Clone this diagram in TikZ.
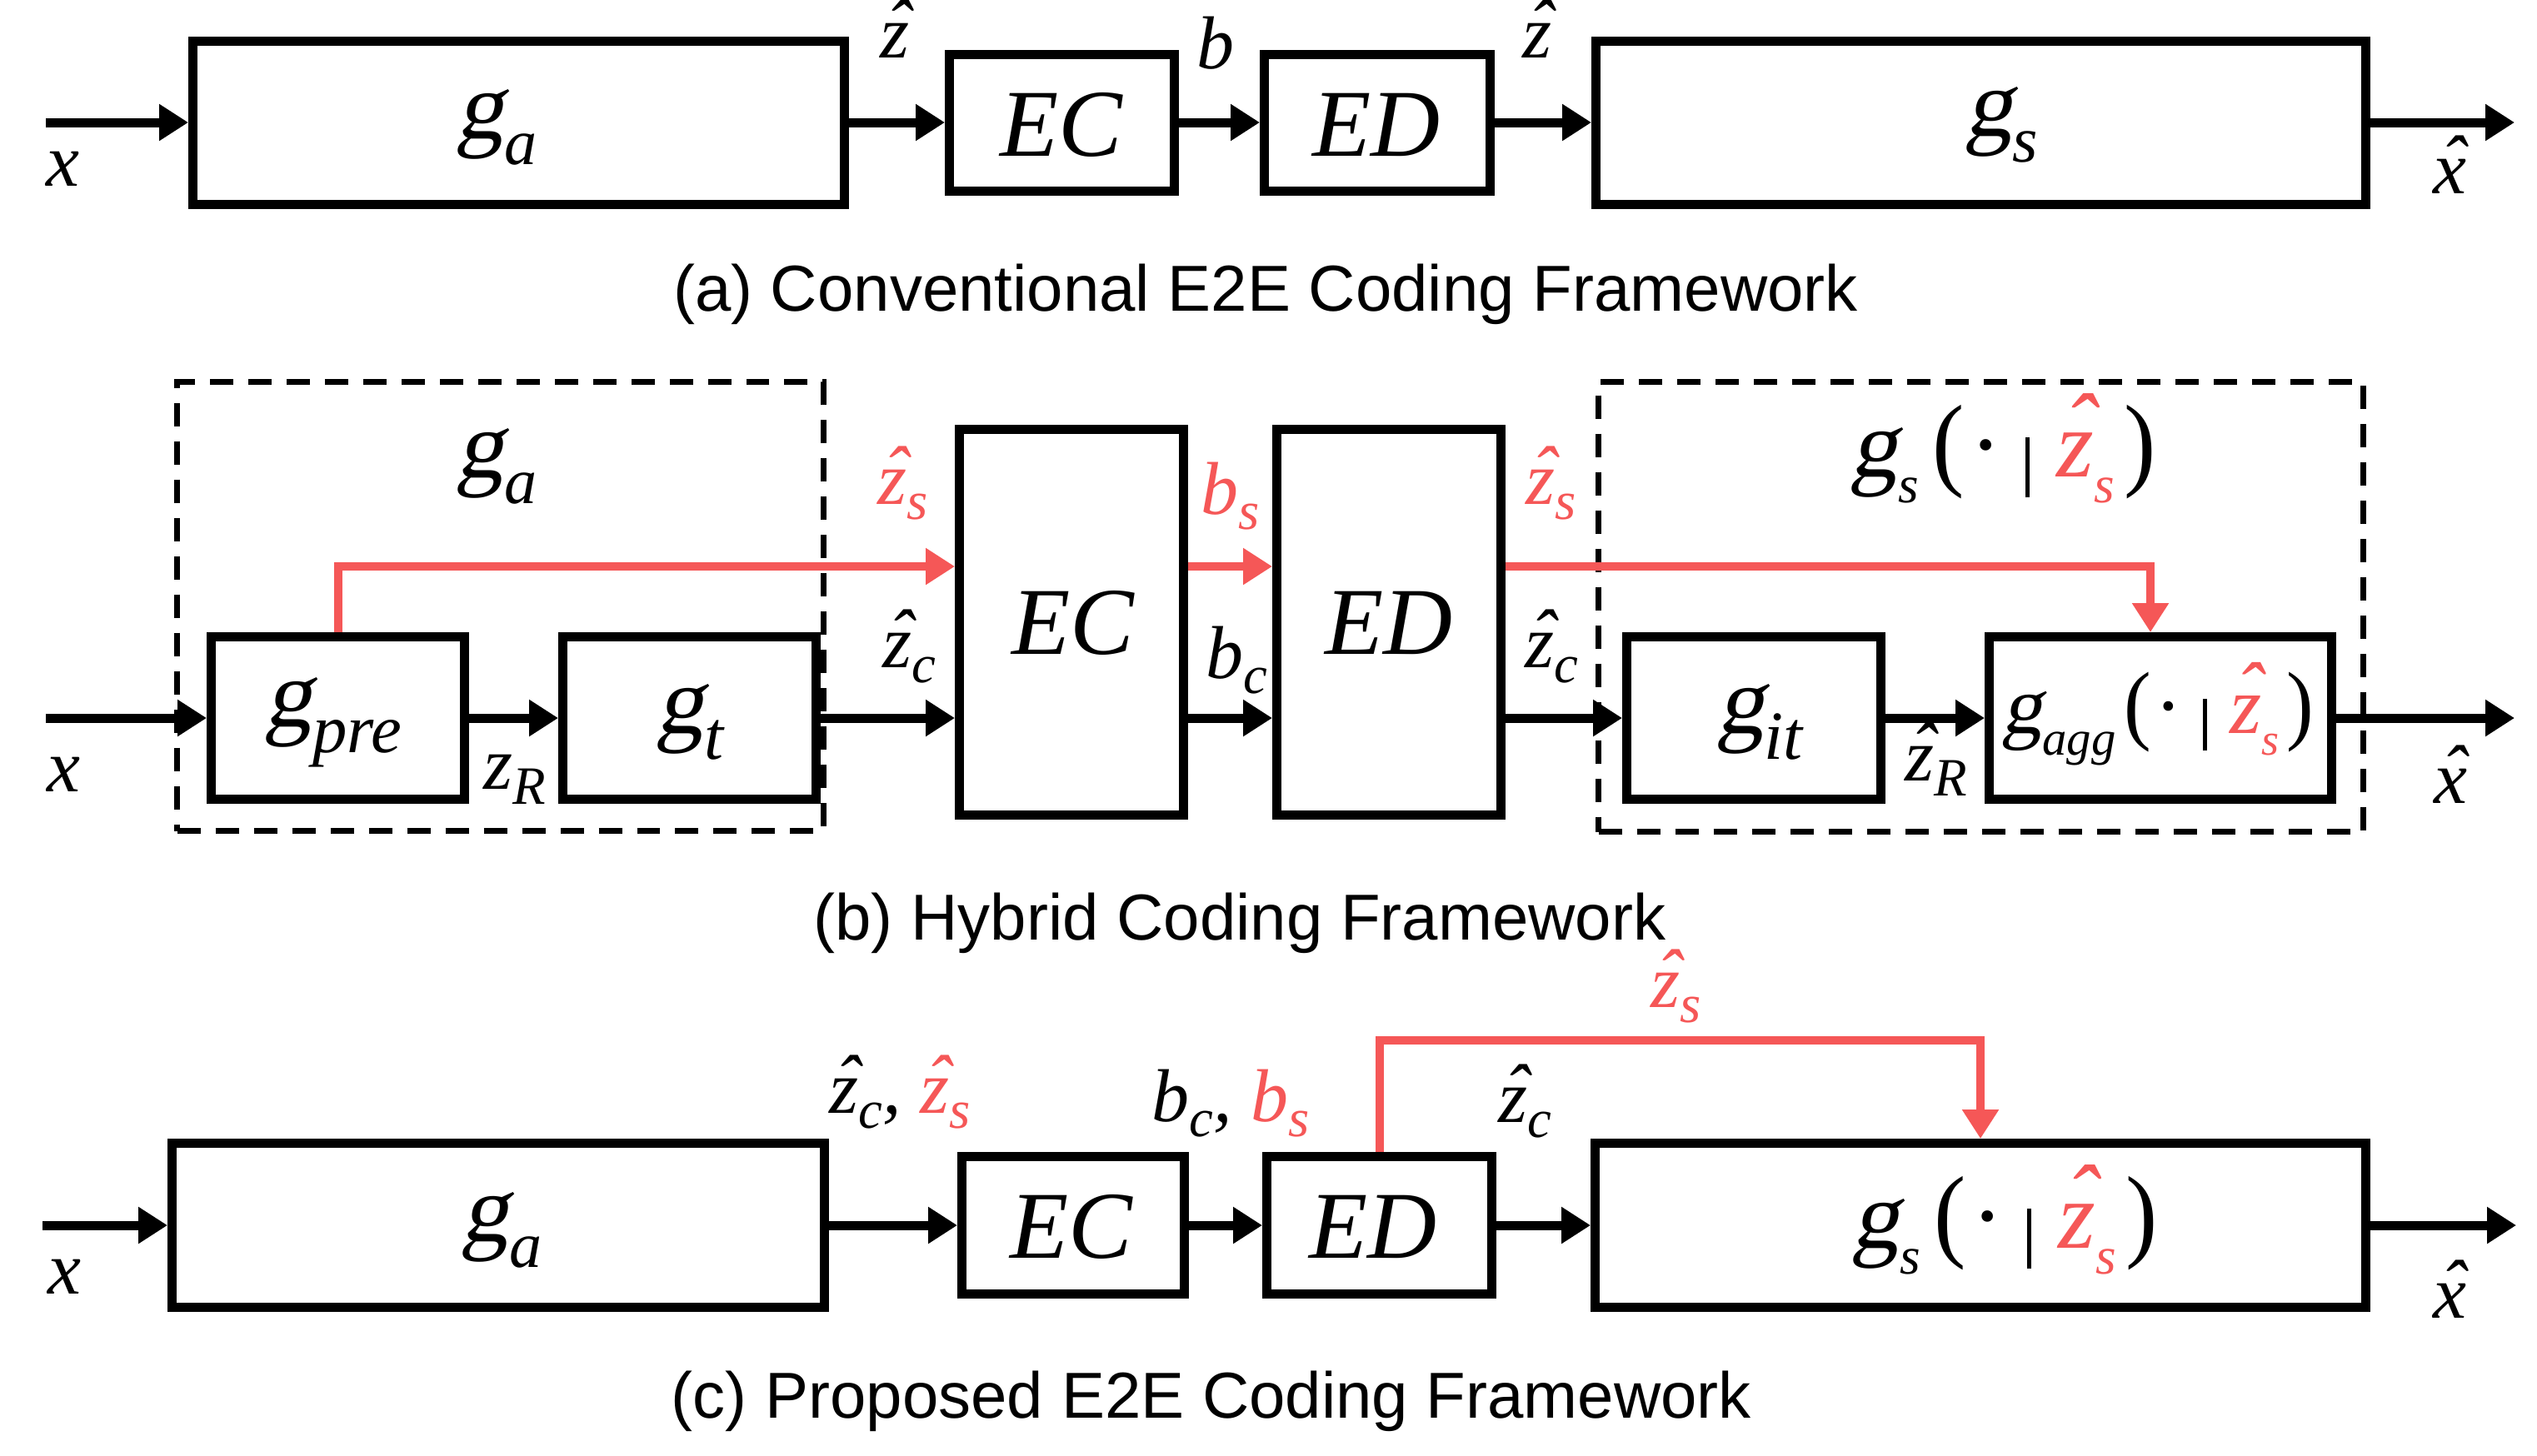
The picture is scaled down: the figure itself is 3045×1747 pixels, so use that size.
\documentclass[tikz,border=0pt]{standalone}
\usepackage{fontspec}
\usepackage{graphicx}
\setmainfont{Liberation Serif}
\newfontfamily\sansf{Liberation Sans}
\newfontfamily\gfam{Liberation Serif}[FakeSlant=0.2]
\usetikzlibrary{arrows.meta}
\definecolor{myred}{RGB}{245,87,87}
\newcommand\myg{{\gfam\upshape g}}
\newcommand\hatit[2][0.08em]{{\leavevmode\ooalign{#2\cr\hidewidth\kern0.1em\raisebox{#1}{\symbol{"02C6}}\hidewidth\cr}}}
\newcommand\sub[2][0.7]{\raisebox{-0.27em}{\scalebox{#1}{#2}}}
\newcommand\lsub[2][0.72]{\raisebox{-0.2em}{\scalebox{#1}{#2}}}
\newcommand\bxf{\itshape\fontsize{11.5pt}{12pt}\selectfont}
\newcommand\lbf{\itshape\fontsize{9pt}{10pt}\selectfont}
\newcommand\capf{\sansf\fontsize{7.8pt}{9pt}\selectfont}
\newcommand\vbar[3]{\rule[#1]{#2}{#3}}
\newcommand\lp{{\upshape\scalebox{1}[1.08]{(}}}
\newcommand\rp{{\upshape\scalebox{1}[1.08]{)}}}
\newcommand\cond[1]{\lp\kern0.05em{\upshape\textperiodcentered}\kern0.25em#1\kern0.28em{\color{myred}\hatit[0.17em]{z}\sub[0.55]{s}}\kern0.1em\rp}
\begin{document}
\begin{tikzpicture}[x=0.1pt,y=-0.1pt,
 box/.style={draw, line width=1.1pt, inner sep=0pt, outer sep=0.55pt},
 grp/.style={draw, line width=0.75pt, dash pattern=on 2.8pt off 1.8pt, inner sep=0pt},
 arr/.style={line width=1.1pt, -{Triangle[length=3.5pt,width=4.2pt]}},
 rarr/.style={arr, draw=myred, line width=1.0pt},
 mt/.style={inner sep=0pt, font=\bxf},
 lb/.style={inner sep=0pt, font=\lbf},
 captxt/.style={inner sep=0pt, font=\capf}]
\useasboundingbox (0,0) rectangle (3045,1747);

% ---------- (a) ----------
\node[box, minimum width=78.2pt, minimum height=19.6pt] (ga1) at (622.5,147) {};
\node[box, minimum width=27.0pt, minimum height=16.4pt] (ec1) at (1274.5,147) {};
\node[box, minimum width=27.1pt, minimum height=16.4pt] (ed1) at (1653,147) {};
\node[box, minimum width=92.4pt, minimum height=19.6pt] (gs1) at (2377.5,147) {};
\coordinate (xin1) at (55,147);
\coordinate (xout1) at (3018,147);
\draw[arr] (xin1) -- (ga1.west);
\draw[arr] (ga1.east) -- (ec1.west);
\draw[arr] (ec1.east) -- (ed1.west);
\draw[arr] (ed1.east) -- (gs1.west);
\draw[arr] (gs1.east) -- (xout1);
\node[mt] (ga1t) at (596,153) {\myg\sub[0.68]{a}};
\node[mt] (ec1t) at (1274,150) {EC};
\node[mt] (ed1t) at (1652,150) {ED};
\node[mt] (gs1t) at (2402,150) {\myg\sub[0.68]{s}};
\node[lb] (xa) at (75,203) {x};
\node[lb] (za1) at (1074,49) {\hatit{z}};
\node[lb] (ba) at (1459,52) {b};
\node[lb] (za2) at (1845,49) {\hatit{z}};
\node[lb] (xha) at (2940,212) {\hatit{x}};
\node[captxt] (capa) at (1519,353) {(a) Conventional E2E Coding Framework};

% ---------- (b) ----------
\node[grp, minimum width=77.6pt, minimum height=53.9pt] (dga) at (600.5,728) {};
\node[grp, minimum width=91.8pt, minimum height=54.0pt] (dgs) at (2377.5,728.5) {};
\node[box, minimum width=30.4pt, minimum height=19.5pt] (gpre) at (405.5,862) {};
\node[box, minimum width=30.4pt, minimum height=19.5pt] (gt) at (827.5,862) {};
\node[box, minimum width=26.9pt, minimum height=46.3pt] (ec2) at (1286,747) {};
\node[box, minimum width=26.9pt, minimum height=46.3pt] (ed2) at (1667,747) {};
\node[box, minimum width=30.5pt, minimum height=19.5pt] (git) at (2105,862) {};
\node[box, minimum width=41.1pt, minimum height=19.5pt] (gagg) at (2593,862) {};
\coordinate (xin2) at (55,862);
\coordinate (xout2) at (3018,862);
\coordinate (yr) at (0,680);
\draw[arr] (xin2) -- (gpre.west);
\draw[arr] (gpre.east) -- (gt.west);
\draw[arr] (gt.east) -- (ec2.west |- gt.east);
\draw[arr] (ec2.east |- gt.east) -- (ed2.west |- gt.east);
\draw[arr] (ed2.east |- gt.east) -- (git.west);
\draw[arr] (git.east) -- (gagg.west);
\draw[arr] (gagg.east) -- (xout2);
\draw[rarr] (gpre.north) |- (ec2.west |- yr);
\draw[rarr] (ec2.east |- yr) -- (ed2.west |- yr);
\draw[rarr] (ed2.east |- yr) -| ([xshift=-1.2pt]gagg.north);
\node[mt] (ga2t) at (596,560) {\myg\sub[0.68]{a}};
\node[mt] (gst) at (2404,545) {\myg\sub[0.55]{s}\kern0.15em\cond{\vbar{-2.5pt}{0.5pt}{7.2pt}}};
\node[mt] (gpret) at (400,867) {\myg\sub[0.72]{pre}};
\node[mt] (gtt) at (828,867) {\myg\sub[0.72]{t}};
\node[mt] (ec2t) at (1288,748) {EC};
\node[mt] (ed2t) at (1667,748) {ED};
\node[mt] (gitt) at (2112,867) {\myg\sub[0.72]{it}};
\node[mt] (gaggt) at (2590,863) {\fontsize{9.8pt}{10pt}\selectfont \myg\sub[0.6]{agg}\kern0.1em\cond{\vbar{-2.1pt}{0.45pt}{6.2pt}}};
\node[lb, text=myred] (zs1) at (1084,594) {\hatit{z}\lsub{s}};
\node[lb, text=myred] (bs) at (1477,596) {b\lsub{s}};
\node[lb, text=myred] (zs2) at (1862,594) {\hatit{z}\lsub{s}};
\node[lb] (zc1) at (1091,790) {\hatit{z}\lsub{c}};
\node[lb] (bc) at (1484,793) {b\lsub{c}};
\node[lb] (zc2) at (1862,790) {\hatit{z}\lsub{c}};
\node[lb] (zr) at (618,936) {z\lsub{R}};
\node[lb] (zhr) at (2324,926) {\hatit{z}\lsub{R}};
\node[lb] (xb) at (76,930) {x};
\node[lb] (xhb) at (2941,944) {\hatit{x}};
\node[captxt] (capb) at (1488,1108) {(b) Hybrid Coding Framework};

% ---------- (c) ----------
\node[box, minimum width=78.3pt, minimum height=19.7pt] (ga3) at (598,1471) {};
\node[box, minimum width=26.7pt, minimum height=16.5pt] (ec3) at (1288,1471) {};
\node[box, minimum width=27.0pt, minimum height=16.5pt] (ed3) at (1655.5,1471) {};
\node[box, minimum width=92.5pt, minimum height=19.7pt] (gs3) at (2377,1471) {};
\coordinate (xin3) at (51,1471);
\coordinate (xout3) at (3020,1471);
\coordinate (rc) at (0,1249);
\draw[arr] (xin3) -- (ga3.west);
\draw[arr] (ga3.east) -- (ec3.west);
\draw[arr] (ec3.east) -- (ed3.west);
\draw[arr] (ed3.east) -- (gs3.west);
\draw[arr] (gs3.east) -- (xout3);
\draw[rarr] (ed3.north) -- (ed3.north |- rc) -| (gs3.north);
\node[mt] (ga3t) at (602,1477) {\myg\sub[0.68]{a}};
\node[mt] (ec3t) at (1286,1473) {EC};
\node[mt] (ed3t) at (1648,1473) {ED};
\node[mt] (gs3t) at (2406,1471) {\myg\sub[0.55]{s}\kern0.15em\cond{\vbar{-2.5pt}{0.5pt}{7.2pt}}};
\node[lb] (xc) at (77,1533) {x};
\node[lb] (zcs) at (1080,1325) {\hatit{z}\lsub{c}, {\color{myred}\hatit{z}\lsub{s}}};
\node[lb] (bcs) at (1477,1325) {b\lsub{c}, {\color{myred}b\lsub{s}}};
\node[lb] (zc3) at (1830,1336) {\hatit{z}\lsub{c}};
\node[lb, text=myred] (zs3) at (2012,1198) {\hatit{z}\lsub{s}};
\node[lb] (xhc) at (2940,1562) {\hatit{x}};
\node[captxt] (capc) at (1454,1682) {(c) Proposed E2E Coding Framework};
\end{tikzpicture}
\end{document}
